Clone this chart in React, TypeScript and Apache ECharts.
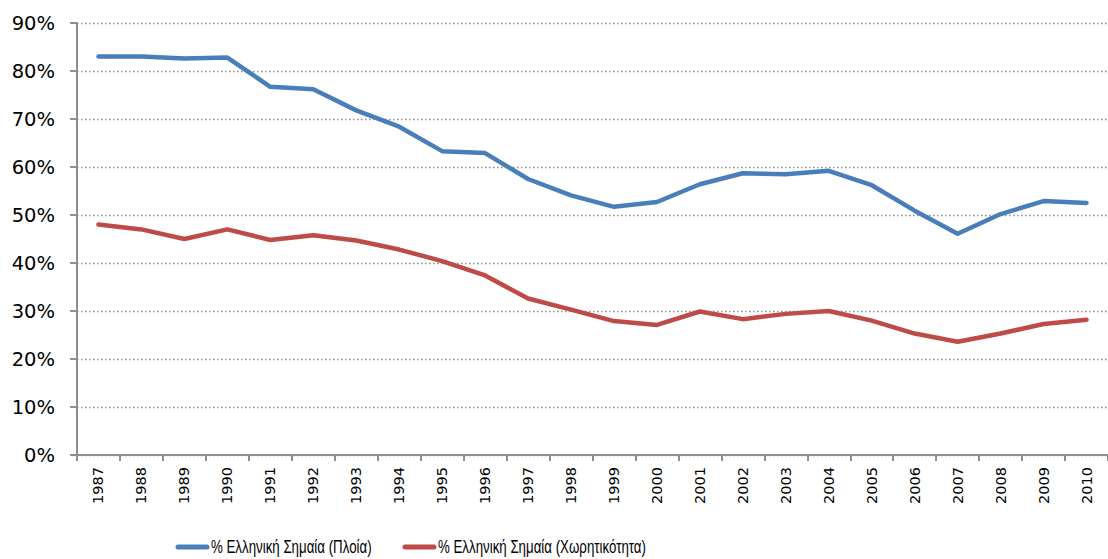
import React, { useEffect, useRef } from "react";
import * as echarts from "echarts";

const years = [
  "1987", "1988", "1989", "1990", "1991", "1992", "1993", "1994", "1995", "1996", "1997", "1998",
  "1999", "2000", "2001", "2002", "2003", "2004", "2005", "2006", "2007", "2008", "2009", "2010",
];

const shipsShare = [
  83.0, 83.0, 82.6, 82.8, 76.7, 76.2, 71.8, 68.4, 63.3, 62.9, 57.5, 54.1,
  51.7, 52.7, 56.4, 58.7, 58.5, 59.2, 56.2, 50.9, 46.1, 50.2, 52.9, 52.5,
];

const capacityShare = [
  48.0, 47.0, 45.0, 47.0, 44.8, 45.8, 44.7, 42.8, 40.4, 37.4, 32.6, 30.3,
  27.9, 27.1, 29.9, 28.3, 29.4, 30.0, 28.0, 25.3, 23.6, 25.3, 27.3, 28.2,
];

const seriesNames = ["% Ελληνική Σημαία (Πλοία)", "% Ελληνική Σημαία (Χωρητικότητα)"];

const BLUE = "#4A7EBB";
const RED = "#BE4B48";
const AXIS = "#8e8e8e";
const LEGEND_FONT = "'Liberation Sans', Arial, sans-serif";

function legendItem(x: number, y: number, color: string, text: string) {
  return {
    type: "group",
    children: [
      {
        type: "line",
        shape: { x1: x + 2, y1: y, x2: x + 31, y2: y },
        style: { stroke: color, lineWidth: 5, lineCap: "round" },
      },
      {
        type: "text",
        x: x + 35,
        y: y,
        scaleX: 0.76,
        style: {
          text,
          fontFamily: LEGEND_FONT,
          fontSize: 17.5,
          fill: "#000",
          verticalAlign: "middle",
          align: "left",
        },
      },
    ],
  };
}

export default function App() {
  const ref = useRef<HTMLDivElement>(null);

  useEffect(() => {
    document.body.style.margin = "0";
    if (!ref.current) return;
    const chart = echarts.init(ref.current, null, { renderer: "svg" });
    chart.setOption({
      animation: false,
      backgroundColor: "#ffffff",
      grid: { left: 77, top: 23, width: 1039, height: 432, containLabel: false },
      legend: { show: false, data: seriesNames },
      graphic: [
        legendItem(176, 547, BLUE, seriesNames[0]),
        legendItem(403, 547, RED, seriesNames[1]),
      ],
      xAxis: {
        type: "category",
        data: years,
        boundaryGap: true,
        axisLine: { show: true, lineStyle: { color: AXIS, width: 2 } },
        axisTick: { show: true, length: 6, lineStyle: { color: AXIS, width: 2 } },
        axisLabel: {
          interval: 0,
          rotate: 90,
          margin: 12,
          fontFamily: "'DejaVu Sans', sans-serif",
          fontSize: 14.5,
          color: "#000",
        },
        splitLine: { show: false },
      },
      yAxis: {
        type: "value",
        min: 0,
        max: 90,
        interval: 10,
        axisLine: { show: true, lineStyle: { color: AXIS, width: 2 } },
        axisTick: { show: true, length: 7, lineStyle: { color: AXIS, width: 2 } },
        axisLabel: {
          formatter: "{value}%",
          margin: 22,
          fontFamily: "'DejaVu Sans', sans-serif",
          fontSize: 19.5,
          color: "#000",
        },
        splitLine: {
          show: true,
          lineStyle: { color: "#8a8a8a", width: 1.3, type: [1.5, 2.5] },
        },
      },
      series: [
        {
          name: seriesNames[0],
          type: "line",
          data: shipsShare,
          symbol: "none",
          itemStyle: { color: BLUE },
          lineStyle: { color: BLUE, width: 4.5, cap: "round", join: "round" },
        },
        {
          name: seriesNames[1],
          type: "line",
          data: capacityShare,
          symbol: "none",
          itemStyle: { color: RED },
          lineStyle: { color: RED, width: 4.5, cap: "round", join: "round" },
        },
      ],
    });
    return () => chart.dispose();
  }, []);

  return <div ref={ref} style={{ width: 1108, height: 559 }} />;
}
